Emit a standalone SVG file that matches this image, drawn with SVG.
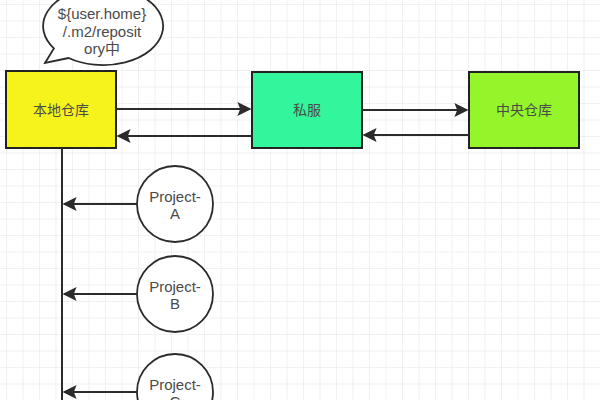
<svg xmlns="http://www.w3.org/2000/svg" width="600" height="400" viewBox="0 0 600 400">
<defs>
<pattern id="grid" x="6" y="4" width="16.5" height="16.5" patternUnits="userSpaceOnUse">
<path d="M0 0H16.5M0 0V16.5" fill="none" stroke="#e4e4e8" stroke-width="1"/>
</pattern>
<marker id="arr" viewBox="0 0 10 10" refX="9" refY="5" markerWidth="14" markerHeight="14" markerUnits="userSpaceOnUse" orient="auto">
<path d="M0 0L10 5L0 10L2 5Z" fill="#2b2b2b"/>
</marker>
<style>
.box{stroke:#222;stroke-width:2}
.lbl{font-family:"Liberation Sans","Noto Sans CJK SC",sans-serif;font-size:14px;fill:#4a4a4a;text-anchor:middle;dominant-baseline:central}
.big{font-size:15px}
.circ{fill:#fff;stroke:#2b2b2b;stroke-width:1.8}
.con{stroke:#2b2b2b;stroke-width:2;fill:none}
</style>
</defs>
<rect width="600" height="400" fill="#fff"/>
<rect width="600" height="400" fill="url(#grid)"/>
<g id="bubble">
<path d="M68.6 58 L45 63 L53.9 48.4 A60 39 0 1 1 68.6 58 Z" fill="#fff" stroke="#2b2b2b" stroke-width="1.8"/>
<text class="lbl big" x="102" y="13">${user.home}</text>
<text class="lbl big" x="102" y="31">/.m2/reposit</text>
<text class="lbl big" x="102" y="48">ory中</text>
</g>
<g id="local">
<rect class="box" x="6" y="71" width="110" height="77" fill="#f6f31c"/>
<text class="lbl" x="61" y="110">本地仓库</text>
</g>
<g id="private">
<rect class="box" x="252" y="72" width="110" height="76" fill="#33f59b"/>
<text class="lbl" x="307" y="110">私服</text>
</g>
<g id="central">
<rect class="box" x="469" y="72" width="110" height="76" fill="#93f52a"/>
<text class="lbl" x="524" y="110">中央仓库</text>
</g>
<g id="projA">
<circle class="circ" cx="175" cy="204" r="38"/>
<text class="lbl big" x="175" y="196">Project-</text>
<text class="lbl big" x="175" y="213">A</text>
</g>
<g id="projB">
<circle class="circ" cx="175" cy="294" r="38"/>
<text class="lbl big" x="175" y="286">Project-</text>
<text class="lbl big" x="175" y="303">B</text>
</g>
<g id="projC">
<circle class="circ" cx="175" cy="392" r="38"/>
<text class="lbl big" x="175" y="384">Project-</text>
<text class="lbl big" x="175" y="401">C</text>
</g>
<g id="connectors">
<line class="con" x1="116" y1="109" x2="250" y2="109" marker-end="url(#arr)"/>
<line class="con" x1="252" y1="136" x2="118" y2="136" marker-end="url(#arr)"/>
<line class="con" x1="362" y1="110" x2="467" y2="110" marker-end="url(#arr)"/>
<line class="con" x1="469" y1="135" x2="364" y2="135" marker-end="url(#arr)"/>
<line class="con" x1="62" y1="148" x2="62" y2="400"/>
<line class="con" x1="137" y1="204" x2="64" y2="204" marker-end="url(#arr)"/>
<line class="con" x1="137" y1="294" x2="64" y2="294" marker-end="url(#arr)"/>
<line class="con" x1="137" y1="392" x2="64" y2="392" marker-end="url(#arr)"/>
</g>
</svg>
